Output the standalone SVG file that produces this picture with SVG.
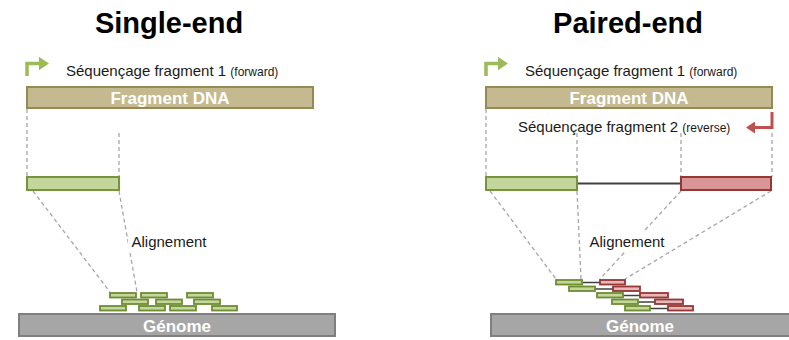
<svg xmlns="http://www.w3.org/2000/svg" width="789" height="340" viewBox="0 0 789 340">
<style>
text{font-family:"Liberation Sans",Arial,sans-serif}
.title{font-size:29px;font-weight:bold;fill:#000;text-anchor:middle}
.lbl{font-size:15px;fill:#1a1a1a}
.sm{font-size:12px}
.al{font-size:15px;fill:#1a1a1a;text-anchor:middle}
.bar{fill:#c4b98f;stroke:#948a54;stroke-width:2}
.bartxt{font-size:17px;font-weight:bold;fill:#fff;text-anchor:middle}
.gen{fill:#a6a6a6;stroke:#7f7f7f;stroke-width:2}
.g{fill:#c3d69b;stroke:#77933c;stroke-width:2}
.r{fill:#d99694;stroke:#953735;stroke-width:2}
.gs{fill:#c3d69b;stroke:#6e8d33;stroke-width:1.8}
.rs{fill:#e6b9b8;stroke:#953735;stroke-width:1.8}
.dash{stroke:#a6a6a6;stroke-width:1.3;stroke-dasharray:4,3;fill:none}
.link{stroke:#404040;stroke-width:2}
.lnk{stroke:#404040;stroke-width:1.5}
</style>
<defs>
<marker id="ag" markerWidth="4" markerHeight="4" refX="1" refY="2" orient="auto" markerUnits="strokeWidth"><path d="M0,0 L3,2 L0,4 z" fill="#9bbb59"/></marker>
<marker id="ar" markerWidth="4" markerHeight="4" refX="1" refY="2" orient="auto" markerUnits="strokeWidth"><path d="M0,0 L3,2 L0,4 z" fill="#c0504d"/></marker>
</defs>

<text class="title" x="169" y="33">Single-end</text>
<text class="title" x="628" y="33">Paired-end</text>

<g id="connectors">
<line class="dash" x1="27" y1="109" x2="27" y2="177"/>
<line class="dash" x1="119" y1="133" x2="119" y2="177"/>
<line class="dash" x1="33" y1="191" x2="110" y2="292"/>
<line class="dash" x1="119" y1="191" x2="137" y2="292"/>
<line class="dash" x1="486" y1="109" x2="486" y2="177"/>
<line class="dash" x1="577" y1="133" x2="577" y2="177"/>
<line class="dash" x1="681" y1="133" x2="681" y2="177"/>
<line class="dash" x1="772" y1="133" x2="772" y2="177"/>
<line class="dash" x1="490" y1="191" x2="556" y2="279"/>
<line class="dash" x1="577" y1="191" x2="581" y2="279"/>
<line class="dash" x1="681" y1="191" x2="600" y2="279"/>
<line class="dash" x1="771" y1="191" x2="625" y2="279"/>
</g>

<g id="single-arrow">
<path d="M27,76 V63.5 H42" fill="none" stroke="#9bbb59" stroke-width="3.5" marker-end="url(#ag)"/>
<text class="lbl" x="66" y="76">Séquençage fragment 1 <tspan class="sm">(forward)</tspan></text>
</g>
<g id="single-fragment">
<rect class="bar" x="27" y="87" width="286" height="21"/>
<text class="bartxt" x="170" y="104">Fragment DNA</text>
</g>
<g id="single-read">
<rect class="g" x="27" y="177" width="92" height="13"/>
</g>
<g id="single-align">
<rect x="128" y="232" width="82" height="20" fill="#fff"/>
<text class="al" x="169" y="247">Alignement</text>
</g>
<g id="single-genome">
<rect class="gen" x="19" y="314" width="316" height="22"/>
<text class="bartxt" x="177" y="332">Génome</text>
</g>
<g id="single-reads">
<rect class="gs" x="110" y="293" width="26" height="4.5"/>
<rect class="gs" x="141" y="293" width="26" height="4.5"/>
<rect class="gs" x="187" y="293" width="26" height="4.5"/>
<rect class="gs" x="122" y="299.5" width="26" height="4.5"/>
<rect class="gs" x="156" y="299.5" width="26" height="4.5"/>
<rect class="gs" x="194" y="299.5" width="26" height="4.5"/>
<rect class="gs" x="100" y="306" width="26" height="4.5"/>
<rect class="gs" x="139" y="306" width="26" height="4.5"/>
<rect class="gs" x="170" y="306" width="26" height="4.5"/>
<rect class="gs" x="212" y="306" width="25" height="4.5"/>
</g>

<g id="paired-arrow1">
<path d="M486,76 V63.5 H501" fill="none" stroke="#9bbb59" stroke-width="3.5" marker-end="url(#ag)"/>
<text class="lbl" x="525" y="76">Séquençage fragment 1 <tspan class="sm">(forward)</tspan></text>
</g>
<g id="paired-fragment">
<rect class="bar" x="486" y="87" width="286" height="21"/>
<text class="bartxt" x="629" y="104">Fragment DNA</text>
</g>
<g id="paired-arrow2">
<path d="M772,112 V127.5 H752" fill="none" stroke="#c0504d" stroke-width="3" marker-end="url(#ar)"/>
<text class="lbl" x="518" y="132">Séquençage fragment 2 <tspan class="sm">(reverse)</tspan></text>
</g>
<g id="paired-reads">
<line class="link" x1="577" y1="183.5" x2="681" y2="183.5"/>
<rect class="g" x="486" y="177" width="91" height="13"/>
<rect class="r" x="681" y="177" width="90" height="13"/>
</g>
<g id="paired-align">
<rect x="585" y="232" width="84" height="20" fill="#fff"/>
<text class="al" x="627" y="247">Alignement</text>
</g>
<g id="paired-genome">
<rect class="gen" x="491" y="314" width="300" height="22"/>
<text class="bartxt" x="640" y="332">Génome</text>
</g>
<g id="paired-small">
<line class="lnk" x1="582" y1="282.5" x2="600" y2="282.5"/>
<line class="lnk" x1="595" y1="289" x2="613" y2="289"/>
<line class="lnk" x1="623" y1="295.5" x2="640" y2="295.5"/>
<line class="lnk" x1="638" y1="302" x2="655" y2="302"/>
<line class="lnk" x1="650" y1="308.5" x2="668" y2="308.5"/>
<rect class="gs" x="556" y="280" width="26" height="4.5"/>
<rect class="rs" x="600" y="280" width="25" height="4.5"/>
<rect class="gs" x="569" y="286.5" width="26" height="4.5"/>
<rect class="rs" x="613" y="286.5" width="27" height="4.5"/>
<rect class="gs" x="597" y="293" width="26" height="4.5"/>
<rect class="rs" x="640" y="293" width="28" height="4.5"/>
<rect class="gs" x="612" y="299.5" width="26" height="4.5"/>
<rect class="rs" x="655" y="299.5" width="28" height="4.5"/>
<rect class="gs" x="625" y="306" width="25" height="4.5"/>
<rect class="rs" x="668" y="306" width="25" height="4.5"/>
</g>
</svg>
